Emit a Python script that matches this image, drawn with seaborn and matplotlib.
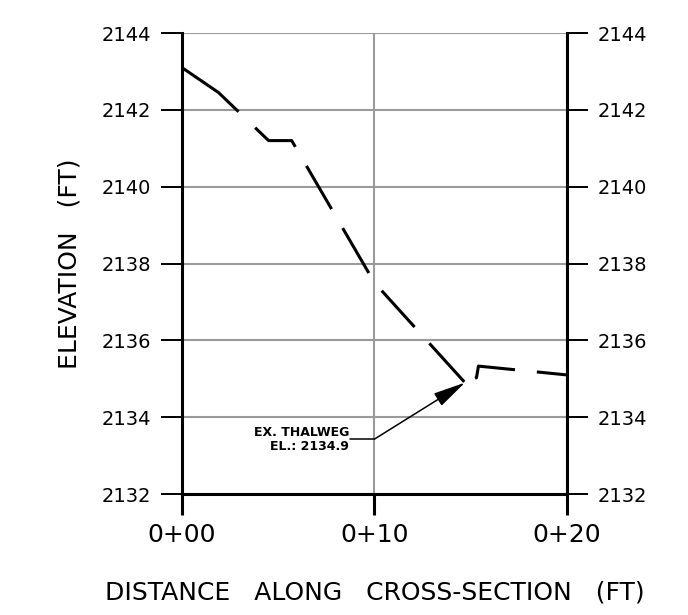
import matplotlib
matplotlib.use('Agg')
import matplotlib.pyplot as plt
import seaborn as sns
import pandas as pd

# ground profile
station = [0.0, 1.9, 4.5, 5.7, 10.0, 14.7, 15.3, 15.4, 20.0]
elevation = [2143.1, 2142.45, 2141.2, 2141.2, 2137.5, 2134.9, 2135.03, 2135.33, 2135.1]

x_ticks = [0, 10, 20]
x_tick_labels = ['0+00', '0+10', '0+20']
y_ticks = [2132, 2134, 2136, 2138, 2140, 2142, 2144]

thalweg_x = 14.7
thalweg_el = 2134.9
note_text = 'EX. THALWEG\nEL.: 2134.9'

sns.set_style('white')
plt.rcParams['font.family'] = ['DejaVu Sans']
plt.rcParams['lines.scale_dashes'] = False
plt.rcParams['text.color'] = 'black'
plt.rcParams['axes.labelcolor'] = 'black'
plt.rcParams['xtick.color'] = 'black'
plt.rcParams['ytick.color'] = 'black'

fig = plt.figure(figsize=(6.88, 6.15), dpi=100)
ax = fig.add_axes([0.2645, 0.1967, 0.5596, 0.7496])

df = pd.DataFrame({'sta': station, 'el': elevation})
sns.lineplot(data=df, x='sta', y='el', ax=ax, color='black', linewidth=2.2, sort=False)
ground = ax.lines[-1]
ground.set_solid_capstyle('butt')
ground.set_dash_capstyle('butt')
# CAD style long dashes (px -> pt at 100 dpi)
dash_px = [72, 23, 49, 22, 50, 22, 52, 22, 49, 22, 52, 12, 50, 22, 60, 100]
ground.set_dashes([d * 0.72 for d in dash_px])

ax.set_xlim(0, 20)
ax.set_ylim(2132, 2144)
ax.set_xticks(x_ticks)
ax.set_xticklabels(x_tick_labels)
ax.set_yticks(y_ticks)

ax.grid(True, color='#9a9a9a', linewidth=1.5)
ax.set_axisbelow(True)

for side in ['left', 'right', 'bottom']:
    ax.spines[side].set_visible(True)
    ax.spines[side].set_color('black')
    ax.spines[side].set_linewidth(2.2)
    ax.spines[side].set_zorder(3)
ax.spines['top'].set_visible(False)

ax.tick_params(axis='y', which='major', left=True, right=True, labelleft=True, labelright=True,
               length=15, width=1.4, color='black', labelcolor='black', pad=7, labelsize=14)
ax.tick_params(axis='x', which='major', bottom=True, length=15, width=2.2, color='black',
               labelcolor='black', pad=6, labelsize=18)

ax.set_xlabel('DISTANCE   ALONG   CROSS-SECTION   (FT)', fontsize=18, labelpad=24, color='black')
ax.set_ylabel('ELEVATION   (FT)', fontsize=18, labelpad=15, color='black')

# leader and arrow to the thalweg
lead_y = 2133.43
ax.plot([8.75, 10.0], [lead_y, lead_y], color='black', linewidth=1.1)
ax.annotate('', xy=(thalweg_x, thalweg_el), xytext=(10.0, lead_y),
            arrowprops=dict(arrowstyle='-|>,head_length=0.8,head_width=0.18',
                            mutation_scale=25, color='black', lw=1.1,
                            shrinkA=0, shrinkB=0))
ax.text(8.68, lead_y, note_text, ha='right', va='center', multialignment='right',
        fontsize=9, fontweight='bold', linespacing=1.1, color='black')

fig.savefig('out.png', dpi=100)
